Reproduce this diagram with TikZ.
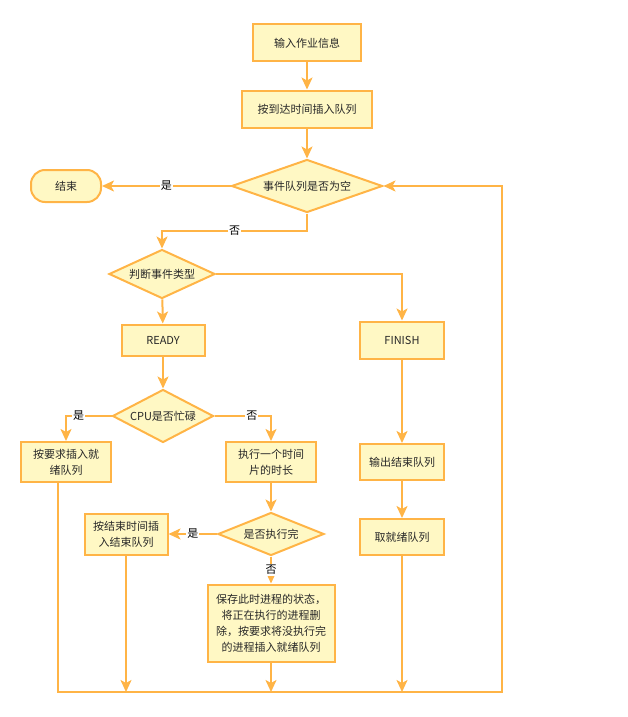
\documentclass[tikz,border=0pt]{standalone}
\usepackage{fontspec}
\setmainfont{Noto Sans CJK SC}
\usetikzlibrary{arrows.meta,shapes.geometric}
\definecolor{box_fill}{RGB}{255,248,196}
\definecolor{box_edge}{RGB}{255,180,70}
\definecolor{text_gray}{RGB}{40,40,40}

\begin{document}
\begin{tikzpicture}[x=1pt,y=-1pt,>={Stealth[length=12pt,width=11pt,inset=3pt]}]
    \tikzstyle{base}=[draw=box_edge, line width=2pt, fill=box_fill, text=text_gray, inner sep=0pt, align=center, font=\fontsize{11}{16}\selectfont]
    \tikzstyle{proc}=[style=base, rectangle, minimum height=37pt]
    \tikzstyle{cond}=[style=base, diamond]
    \tikzstyle{term}=[style=base, rectangle, rounded corners=14pt, minimum width=70pt, minimum height=32pt]
    \tikzstyle{line}=[->, draw=box_edge, line width=2pt]
    \tikzstyle{lbl}=[fill=white, inner sep=1pt, text=black, font=\fontsize{11}{13}\selectfont]

    \useasboundingbox (0,0) rectangle (627,717);

    \node[proc, minimum width=108pt] (input)  at (307,43)  {输入作业信息};
    \node[proc, minimum width=130pt] (insert) at (307,109) {按到达时间插入队列};
    \node[cond, aspect=2.85, minimum width=151pt, minimum height=53pt] (empty) at (307,186) {事件队列是否为空};
    \node[term] (stop) at (66,186) {结束};
    \node[cond, aspect=2.16, minimum width=106pt, minimum height=49pt] (kind) at (162,274) {判断事件类型};
    \node[proc, minimum width=83pt, minimum height=31pt] (ready)  at (163,340) {READY};
    \node[proc, minimum width=84pt] (finish) at (402,340) {FINISH};
    \node[cond, aspect=1.9, minimum width=101pt, minimum height=53pt] (busy) at (163,416) {CPU是否忙碌};
    \node[proc, minimum width=90pt, minimum height=40pt] (toready) at (66,462)  {按要求插入就\\绪队列};
    \node[proc, minimum width=90pt, minimum height=40pt] (run)     at (271,462) {执行一个时间\\片的时长};
    \node[cond, aspect=2.47, minimum width=106pt, minimum height=43pt] (done) at (271,534) {是否执行完};
    \node[proc, minimum width=83pt, minimum height=41pt] (tofinish) at (126,534) {按结束时间插\\入结束队列};
    \node[proc, minimum width=127pt, minimum height=77pt] (save) at (271,623)
        {保存此时进程的状态，\\将正在执行的进程删\\除，按要求将没执行完\\的进程插入就绪队列};
    \node[proc, minimum width=84pt, minimum height=36pt] (output) at (402,462) {输出结束队列};
    \node[proc, minimum width=84pt, minimum height=36pt] (take)   at (402,537) {取就绪队列};
    \coordinate (loop) at (502,692);

    \path
     (input) edge[line] (insert)
     (insert) edge[line] (empty)
     (empty) edge[line] node[lbl] {是} (stop)
     (kind) edge[line] (ready)
     (ready) edge[line] (busy)
     (run) edge[line] (done)
     (done) edge[line] node[lbl] {是} (tofinish)
     (done) edge[line] node[lbl] {否} (save)
     (finish) edge[line] (output)
     (output) edge[line] (take)
     ;
    \draw[line] (empty.south) -- ++(0,17) -| node[lbl, pos=0.25] {否} (kind.north);
    \draw[line] (kind.east) -| (finish.north);
    \draw[line] (busy.west) -| node[lbl, pos=0.36] {是} (toready.north);
    \draw[line] (busy.east) -| node[lbl, pos=0.33] {否} (run.north);
    % back to the queue test
    \draw[line] ([xshift=-8pt]toready.south) |- (loop) |- (empty.east);
    \draw[line] (tofinish.south) -- (tofinish.south |- loop);
    \draw[line] (save.south) -- (save.south |- loop);
    \draw[line] (take.south) -- (take.south |- loop);
\end{tikzpicture}
\end{document}
